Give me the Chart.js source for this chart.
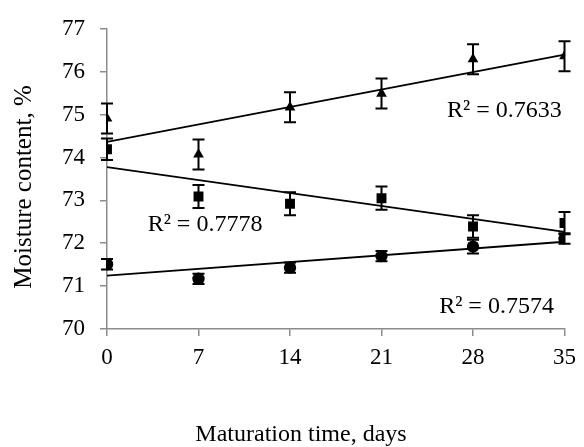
<!DOCTYPE html>
<html>
<head>
<meta charset="utf-8">
<script src="https://cdn.jsdelivr.net/npm/chart.js@4.4.1/dist/chart.umd.min.js"></script>
<style>
  html, body { margin: 0; padding: 0; background: #fff; }
  #wrap { width: 584px; height: 447px; }
</style>
</head>
<body>
<div id="wrap"><canvas id="chart"></canvas></div>
<script>
// Maturation days and measured moisture (%) with error bars
const days = [0, 7, 14, 21, 28, 35];
const triangleValues = [74.91, 74.07, 75.17, 75.49, 76.29, 76.36];
const triangleErrors = [0.35, 0.35, 0.35, 0.35, 0.35, 0.35];
const squareValues = [74.19, 73.09, 72.92, 73.05, 72.39, 72.47];
const squareErrors = [0.25, 0.27, 0.27, 0.27, 0.26, 0.26];
const circleValues = [71.51, 71.17, 71.43, 71.70, 71.92, 72.11];
const circleErrors = [0.12, 0.12, 0.12, 0.12, 0.16, 0.12];
const rSquaredLabels = ['R² = 0.7633', 'R² = 0.7778', 'R² = 0.7574'];
const yTicks = [70, 71, 72, 73, 74, 75, 76, 77];

const FONT = '"Liberation Serif", "Times New Roman", serif';
const AXIS_GREY = '#8c8c8c';

// least squares fit, used for the linear trend lines
function linearFit(xs, ys) {
    const n = xs.length;
    const mx = xs.reduce((a, b) => a + b, 0) / n;
    const my = ys.reduce((a, b) => a + b, 0) / n;
    let sxy = 0, sxx = 0;
    for (let i = 0; i < n; i++) {
        sxy += (xs[i] - mx) * (ys[i] - my);
        sxx += (xs[i] - mx) * (xs[i] - mx);
    }
    const slope = sxy / sxx;
    const icpt = my - slope * mx;
    const x0 = xs[0], x1 = xs[n - 1];
    return [{ x: x0, y: icpt + slope * x0 }, { x: x1, y: icpt + slope * x1 }];
}

const toPoints = (vals) => vals.map((v, i) => ({ x: days[i], y: v }));

const errorSeries = [
    { values: triangleValues, errors: triangleErrors },
    { values: squareValues, errors: squareErrors },
    { values: circleValues, errors: circleErrors }
];

const errorBarPlugin = {
    id: 'errorBars',
    beforeDatasetsDraw(chart) {
        const { ctx, scales: { x, y } } = chart;
        ctx.save();
        ctx.strokeStyle = '#000';
        ctx.lineWidth = 2;
        errorSeries.forEach(s => {
            s.values.forEach((v, i) => {
                const px = x.getPixelForValue(days[i]);
                const top = y.getPixelForValue(v + s.errors[i]);
                const bot = y.getPixelForValue(v - s.errors[i]);
                ctx.beginPath();
                ctx.moveTo(px, top); ctx.lineTo(px, bot);
                ctx.moveTo(px - 6, top); ctx.lineTo(px + 6, top);
                ctx.moveTo(px - 6, bot); ctx.lineTo(px + 6, bot);
                ctx.stroke();
            });
        });
        ctx.restore();
    }
};

const textPlugin = {
    id: 'texts',
    afterDraw(chart) {
        const { ctx, scales: { x, y } } = chart;
        ctx.save();
        ctx.fillStyle = '#000';
        ctx.textAlign = 'center';
        ctx.textBaseline = 'middle';

        // R² labels, anchored in data coordinates
        ctx.font = '24px ' + FONT;
        const spots = [[30.4, 75.1], [7.5, 72.44], [29.8, 70.53]];
        rSquaredLabels.forEach((t, i) => {
            ctx.fillText(t, x.getPixelForValue(spots[i][0]), y.getPixelForValue(spots[i][1]));
        });

        // axis titles
        ctx.fillText('Maturation time, days', 301, 435);
        ctx.font = '25px ' + FONT;
        ctx.translate(24, 187);
        ctx.rotate(-Math.PI / 2);
        ctx.fillText('Moisture content, %', 0, 0);
        ctx.restore();
    }
};

const markerBase = {
    showLine: false,
    backgroundColor: '#000',
    borderColor: '#000',
    borderWidth: 0
};
const trendBase = {
    showLine: true,
    borderColor: '#000',
    borderWidth: 1.8,
    pointRadius: 0,
    fill: false
};

new Chart(document.getElementById('chart'), {
    type: 'scatter',
    data: {
        datasets: [
            { ...markerBase, data: toPoints(triangleValues), pointStyle: 'triangle', pointRadius: 6.2 },
            { ...markerBase, data: toPoints(squareValues), pointStyle: 'rect', pointRadius: 7 },
            { ...markerBase, data: toPoints(circleValues), pointStyle: 'circle', pointRadius: 6.2 },
            { ...trendBase, data: linearFit(days, triangleValues) },
            { ...trendBase, data: linearFit(days, squareValues) },
            { ...trendBase, data: linearFit(days, circleValues) }
        ]
    },
    options: {
        responsive: true,
        maintainAspectRatio: false,
        animation: false,
        layout: { padding: { left: 0, top: 24, right: 19, bottom: 0 } },
        plugins: {
            legend: { display: false },
            tooltip: { enabled: false }
        },
        scales: {
            x: {
                type: 'linear',
                min: 0,
                max: 35,
                afterFit: (s) => { s.height = 118; },
                afterBuildTicks: (s) => { s.ticks = days.map(v => ({ value: v })); },
                grid: { drawOnChartArea: false, drawTicks: true, tickLength: 7, color: AXIS_GREY, lineWidth: 1.5 },
                border: { color: AXIS_GREY, width: 1.5 },
                ticks: { color: '#000', font: { family: FONT, size: 23 }, padding: 8, maxRotation: 0 }
            },
            y: {
                min: 70,
                max: 77,
                afterFit: (s) => { s.width = 107; },
                afterBuildTicks: (s) => { s.ticks = yTicks.map(v => ({ value: v })); },
                grid: { drawOnChartArea: false, drawTicks: true, tickLength: 7, color: AXIS_GREY, lineWidth: 1.5 },
                border: { color: AXIS_GREY, width: 1.5 },
                ticks: { color: '#000', font: { family: FONT, size: 23 }, padding: 15 }
            }
        }
    },
    plugins: [errorBarPlugin, textPlugin]
});
</script>
</body>
</html>
